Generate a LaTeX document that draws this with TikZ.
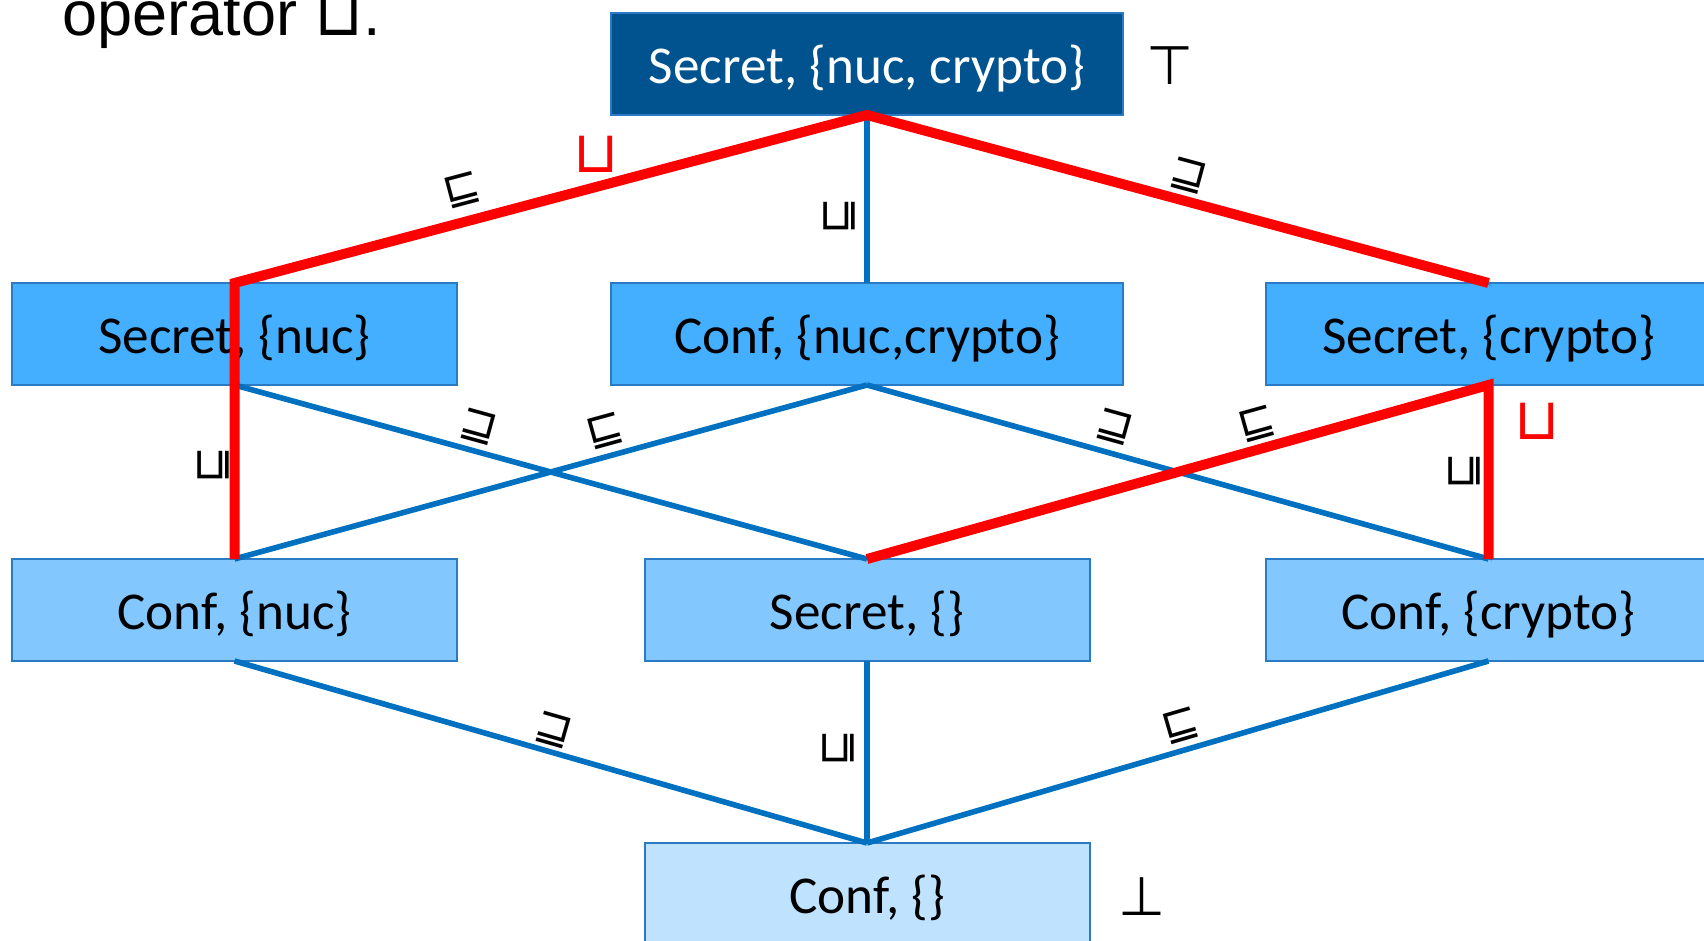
\documentclass[tikz,border=0pt]{standalone}
\usepackage{fontspec}
\setmainfont{Carlito}
\newfontfamily\symfont{DejaVu Sans}
\newfontfamily\capfont{Liberation Sans}
\usepackage{tikz}
\usetikzlibrary{positioning}

\definecolor{darkbox}{HTML}{00538F}
\definecolor{midbox}{HTML}{44AEFF}
\definecolor{lightbox}{HTML}{82C8FF}
\definecolor{palebox}{HTML}{BFE3FF}
\definecolor{boxline}{HTML}{2A7BC4}
\definecolor{lineblue}{HTML}{0070C0}

\begin{document}
\begin{tikzpicture}[x=0.5pt,y=-0.5pt,
  lattice node/.style={rectangle,draw=boxline,line width=1pt,inner sep=0pt,outer sep=0pt,
    minimum height=51pt,minimum width=222.5pt,text height=21pt,text depth=1.5pt,
    font=\fontsize{26.6}{30}\selectfont},
  top node/.style={lattice node,fill=darkbox,text=white,minimum width=256pt},
  upper node/.style={lattice node,fill=midbox},
  lower node/.style={lattice node,fill=lightbox},
  bottom node/.style={lattice node,fill=palebox},
  order edge/.style={lineblue,line width=2.8pt},
  join edge/.style={draw=red,line width=5pt,
    preaction={draw=black,opacity=.25,transform canvas={xshift=1.4pt,yshift=-1.2pt}}},
  rel label/.style={font=\symfont\fontsize{22}{26}\selectfont,text=black,inner sep=0pt,anchor=center},
  join label/.style={font=\symfont\fontsize{29}{32}\selectfont,text=red,inner sep=0pt,anchor=center},
  bound label/.style={font=\symfont\fontsize{27}{32}\selectfont,inner sep=0pt,anchor=center}]

  \useasboundingbox (0,0) rectangle (1704,941);
  \clip (0,0) rectangle (1704,941);

  \node[anchor=base west,inner sep=0pt,font=\capfont\fontsize{31.5}{36}\selectfont] (caption)
    at (62,36) {operator {\symfont ⊔}.};

  % the lattice
  \node[top node] (top) at (867,64) {Secret, \{nuc, crypto\}};
  \node[upper node,minimum width=256pt] (r2M) [below=84pt of top] {Conf, \{nuc,crypto\}};
  \node[upper node] (r2L) [left=77pt of r2M] {Secret, \{nuc\}};
  \node[upper node] (r2R) [right=71.5pt of r2M] {Secret, \{crypto\}};
  \node[lower node] (r3M) [below=87pt of r2M] {Secret, \{\}};
  \node[lower node] (r3L) [below=87pt of r2L] {Conf, \{nuc\}};
  \node[lower node] (r3R) [below=87pt of r2R] {Conf, \{crypto\}};
  \node[bottom node] (bot) [below=91pt of r3M] {Conf, \{\}};

  \node[bound label] (topel) at (1170,66) {⊤};
  \node[bound label] (botel) at (1142,897) {⊥};

  \path[order edge]
    (top.south)
        edge node[rel label,pos=.6,xshift=-14pt,rotate=90] {⊑} (r2M.north)
    (r2L.south)
        edge node[rel label,pos=.375,xshift=3.15pt,yshift=11.65pt,rotate=-15.4] {⊒} (r3M.north)
    (r2M.south)
        edge node[rel label,pos=.404,xshift=-3.3pt,yshift=12.15pt,rotate=15.4] {⊑} (r3L.north)
        edge node[rel label,pos=.386,xshift=3.55pt,yshift=12.6pt,rotate=-15.6] {⊒} (r3R.north)
    (r3L.south)
        edge node[rel label,pos=.495,xshift=3.1pt,yshift=10.55pt,rotate=-16] {⊒} (bot.north)
    (r3M.south)
        edge node[rel label,pos=.478,xshift=-14.25pt,rotate=90] {⊑} (bot.north)
    (r3R.south)
        edge node[rel label,pos=.484,xshift=-3.45pt,yshift=11.55pt,rotate=16.3] {⊑} (bot.north);

  % join paths
  \draw[join edge] (r3L.north)
      -- node[rel label,pos=.34,xshift=-10.5pt,rotate=90] {⊑} (r2L.north)
      -- node[rel label,pos=.3725,xshift=-4.05pt,yshift=15.2pt,rotate=14.9] {⊑}
         node[join label,pos=.585,xshift=-4.25pt,yshift=15pt] {⊔} (top.south)
      -- node[rel label,pos=.506,xshift=3.25pt,yshift=12pt,rotate=-15.1] {⊒} (r2R.north);
  \draw[join edge] (r3M.north)
      -- node[rel label,pos=.638,xshift=-3.25pt,yshift=12pt,rotate=15.6] {⊑} (r2R.south)
      -- node[rel label,pos=.494,xshift=-12.25pt,rotate=90] {⊑}
         node[join label,pos=.2,xshift=24.25pt,yshift=-1pt] {⊔} (r3R.north);
\end{tikzpicture}
\end{document}
